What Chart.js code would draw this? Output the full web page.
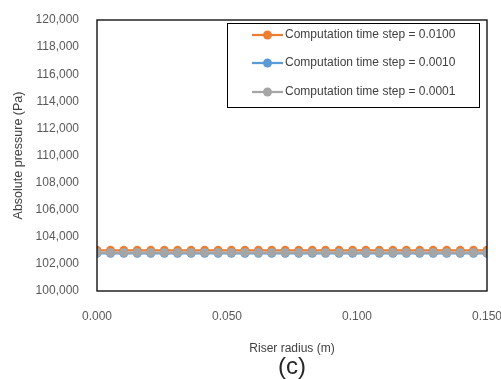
<!DOCTYPE html>
<html>
<head>
<meta charset="utf-8">
<script src="https://cdn.jsdelivr.net/npm/chart.js@4/dist/chart.umd.min.js"></script>
<style>
  html, body { margin: 0; padding: 0; background: #fff; }
  #wrap { width: 501px; height: 379px; position: relative; }
</style>
</head>
<body>
<div id="wrap"><canvas id="chart"></canvas></div>
<script>
// riser radius nodes (m)
const radius = [0.0000, 0.0052, 0.0103, 0.0155, 0.0207, 0.0259, 0.0310, 0.0362, 0.0414, 0.0466,
                0.0517, 0.0569, 0.0621, 0.0672, 0.0724, 0.0776, 0.0828, 0.0879, 0.0931, 0.0983,
                0.1034, 0.1086, 0.1138, 0.1190, 0.1241, 0.1293, 0.1345, 0.1397, 0.1448, 0.1500];

// absolute pressure (Pa) per time step
const pressureDt0100 = [103000, 103000, 103000, 103000, 103000, 103000, 103000, 103000, 103000, 103000,
                        103000, 103000, 103000, 103000, 103000, 103000, 103000, 103000, 103000, 103000,
                        103000, 103000, 103000, 103000, 103000, 103000, 103000, 103000, 103000, 103000];
const pressureDt0010 = [102780, 102780, 102780, 102780, 102780, 102780, 102780, 102780, 102780, 102780,
                        102780, 102780, 102780, 102780, 102780, 102780, 102780, 102780, 102780, 102780,
                        102780, 102780, 102780, 102780, 102780, 102780, 102780, 102780, 102780, 102780];
const pressureDt0001 = [102840, 102840, 102840, 102840, 102840, 102840, 102840, 102840, 102840, 102840,
                        102840, 102840, 102840, 102840, 102840, 102840, 102840, 102840, 102840, 102840,
                        102840, 102840, 102840, 102840, 102840, 102840, 102840, 102840, 102840, 102840];

const seriesLabels = ['Computation time step = 0.0100', 'Computation time step = 0.0010', 'Computation time step = 0.0001'];
const seriesColors = ['#ED7D31', '#5B9BD5', '#A5A5A5'];
const seriesValues = [pressureDt0100, pressureDt0010, pressureDt0001];

const xTicks = [0, 0.05, 0.10, 0.15];
const yMin = 100000, yMax = 120000, yStep = 2000;

const FONT = '"Liberation Sans", Arial, sans-serif';

function toPoints(vals) {
    return vals.map((v, i) => ({x: radius[i], y: v}));
}

const datasets = seriesValues.map((vals, i) => ({
    label: seriesLabels[i],
    data: toPoints(vals),
    borderColor: seriesColors[i],
    backgroundColor: seriesColors[i],
    pointBackgroundColor: seriesColors[i],
    pointBorderColor: seriesColors[i],
    borderWidth: 2.25,
    pointRadius: 4.5,
    pointBorderWidth: 0,
    order: 3 - i,
    tension: 0
}));

// frame around the plot area
const frame = {
    id: 'frame',
    afterDatasetsDraw(chart) {
        const {ctx, chartArea: a} = chart;
        ctx.save();
        ctx.strokeStyle = '#000';
        ctx.lineWidth = 1.3;
        ctx.strokeRect(a.left, a.top, a.right - a.left, a.bottom - a.top);
        ctx.restore();
    }
};

// boxed legend inside the plot, top right, and the panel tag under the axis
const boxLegend = {
    id: 'boxLegend',
    afterDraw(chart) {
        const {ctx, chartArea: a} = chart;
        const x0 = 227, y0 = 23, x1 = 479, y1 = 107;
        ctx.save();
        ctx.fillStyle = '#fff';
        ctx.fillRect(x0, y0, x1 - x0, y1 - y0);
        ctx.strokeStyle = '#000';
        ctx.lineWidth = 1;
        ctx.strokeRect(x0 + 0.5, y0 + 0.5, x1 - x0, y1 - y0);
        const rows = [35, 63, 92];
        ctx.font = '12px ' + FONT;
        ctx.textBaseline = 'middle';
        ctx.textAlign = 'left';
        chart.data.datasets.forEach((ds, i) => {
            const y = rows[i];
            ctx.strokeStyle = ds.borderColor;
            ctx.lineWidth = 2.25;
            ctx.beginPath();
            ctx.moveTo(252, y);
            ctx.lineTo(283, y);
            ctx.stroke();
            ctx.fillStyle = ds.borderColor;
            ctx.beginPath();
            ctx.arc(267.5, y, 4.5, 0, Math.PI * 2);
            ctx.fill();
            ctx.fillStyle = '#404040';
            ctx.fillText(ds.label, 285, y);
        });
        // (c)
        ctx.fillStyle = '#262626';
        ctx.font = '24px ' + FONT;
        ctx.textAlign = 'center';
        ctx.textBaseline = 'alphabetic';
        ctx.fillText('(c)', (a.left + a.right) / 2, 374);
        ctx.restore();
    }
};

const ctx = document.getElementById('chart').getContext('2d');
new Chart(ctx, {
    type: 'line',
    data: {datasets: datasets},
    options: {
        responsive: true,
        maintainAspectRatio: false,
        animation: false,
        layout: {padding: {left: 0, right: 0, top: 20, bottom: 21}},
        plugins: {
            legend: {display: false},
            tooltip: {enabled: false}
        },
        scales: {
            x: {
                type: 'linear',
                min: 0,
                max: 0.15,
                grid: {display: false, drawTicks: false},
                border: {display: false},
                afterBuildTicks: s => { s.ticks = xTicks.map(v => ({value: v})); },
                afterFit: s => { s.height = 67; s.paddingLeft = 0; s.paddingRight = 14; },
                ticks: {
                    color: '#595959',
                    font: {family: FONT, size: 12},
                    padding: 18,
                    maxRotation: 0,
                    callback: v => Number(v).toFixed(3)
                },
                title: {
                    display: true,
                    text: 'Riser radius (m)',
                    color: '#404040',
                    font: {family: FONT, size: 12},
                    padding: {top: 0, bottom: 2}
                }
            },
            y: {
                min: yMin,
                max: yMax,
                grid: {display: false, drawTicks: false},
                border: {display: false},
                afterFit: s => { s.width = 97; s.paddingTop = 0; s.paddingBottom = 0; },
                ticks: {
                    stepSize: yStep,
                    color: '#595959',
                    font: {family: FONT, size: 12},
                    padding: 18,
                    callback: v => Number(v).toLocaleString('en-US')
                },
                title: {
                    display: true,
                    text: 'Absolute pressure (Pa)',
                    color: '#404040',
                    font: {family: FONT, size: 12.5},
                    padding: {top: 11, bottom: 0}
                }
            }
        }
    },
    plugins: [frame, boxLegend]
});
</script>
</body>
</html>
